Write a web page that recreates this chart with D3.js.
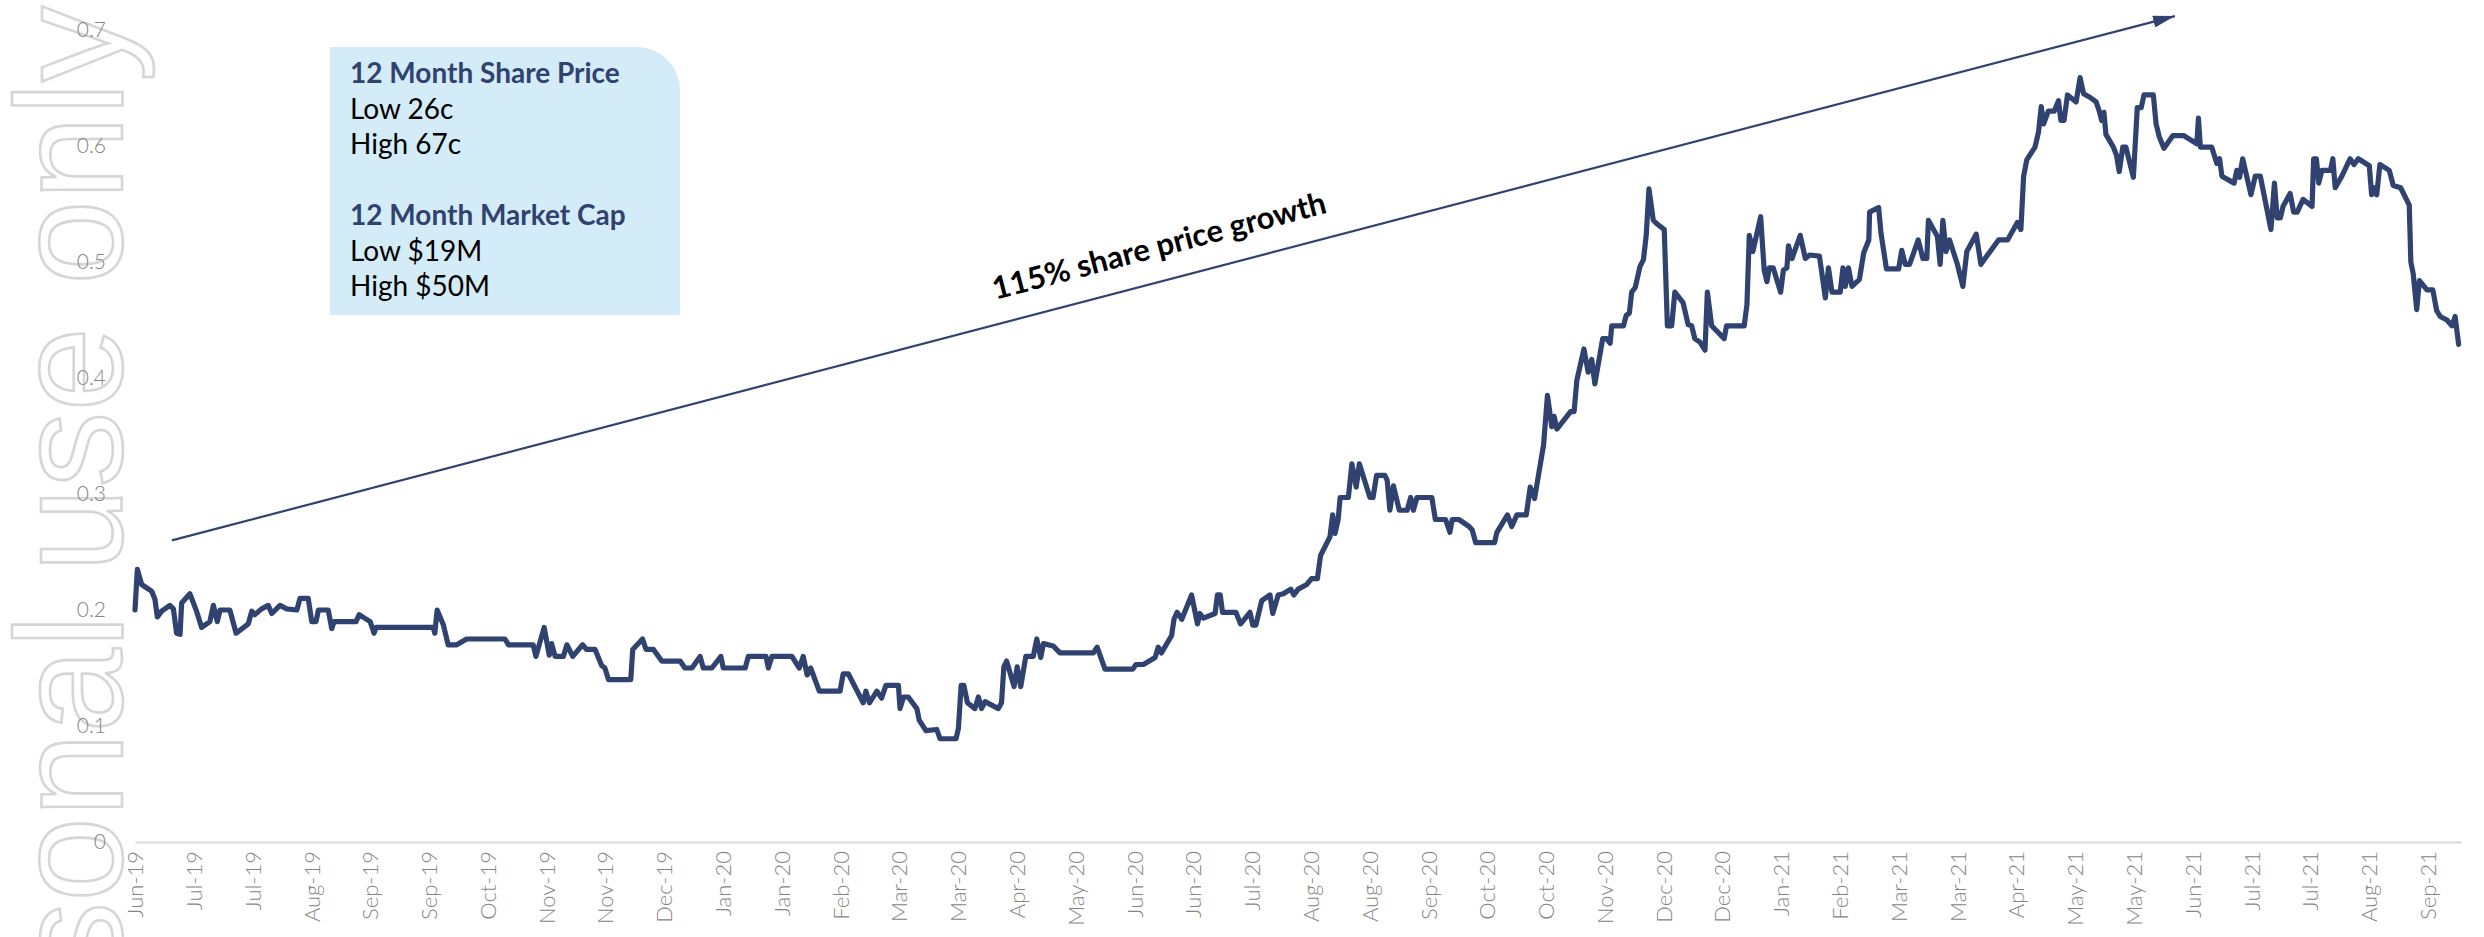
<!DOCTYPE html>
<html>
<head>
<meta charset="utf-8">
<script src="https://cdn.jsdelivr.net/npm/d3@7"></script>
<style>
  html, body { margin: 0; padding: 0; background: #ffffff; }
  svg { display: block; }
</style>
</head>
<body>
<svg id="chart" width="2484" height="937"></svg>
<script>
// Daily close, traced as polyline vertices: trading-day index and price (A$)
const tradingDay = [
  0.0, 0.6, 1.7, 4.3, 5.1, 5.7, 6.8, 8.9, 9.8, 10.6, 11.5, 11.9, 14.0, 15.7, 17.0, 19.1, 20.0, 21.0, 21.7, 24.2,
  25.8, 28.9, 29.8, 30.6, 32.3, 34.0, 34.9, 37.0, 38.7, 41.3, 42.1, 44.2, 45.1, 46.2, 46.8, 49.3, 50.2, 50.8, 56.4, 57.2,
  60.0, 61.0, 61.5, 76.1, 76.5, 77.1, 78.7, 79.9, 82.1, 84.6, 94.4, 95.3, 101.6, 102.3, 104.4, 105.7, 106.3, 107.2, 109.3, 110.2,
  111.7, 114.2, 115.2, 117.4, 119.1, 119.9, 120.8, 126.5, 127.0, 129.5, 130.4, 132.3, 134.4, 139.1, 140.3, 142.1, 144.2, 145.0, 147.2, 149.5,
  150.1, 155.7, 156.5, 161.0, 161.6, 162.5, 167.6, 169.5, 170.5, 171.5, 172.4, 174.6, 179.9, 180.7, 182.0, 185.8, 186.5, 187.4, 189.3, 190.5,
  191.6, 194.8, 195.2, 196.1, 197.3, 199.5, 200.1, 201.8, 204.6, 205.4, 209.5, 210.1, 210.8, 211.5, 212.4, 214.3, 215.2, 216.0, 216.9, 220.3,
  221.1, 221.7, 222.4, 224.3, 225.1, 226.0, 227.3, 229.2, 230.1, 231.1, 231.8, 234.3, 236.0, 244.5, 245.5, 247.5, 254.6, 255.4, 257.3, 260.3,
  261.1, 261.9, 264.5, 265.1, 265.9, 267.1, 269.6, 271.1, 271.7, 272.6, 275.6, 276.2, 276.9, 277.5, 280.9, 282.1, 284.5, 285.2, 286.0, 287.5,
  289.6, 290.3, 291.7, 293.0, 294.9, 295.7, 296.8, 299.0, 300.2, 301.7, 302.5, 304.9, 305.6, 306.2, 307.0, 307.5, 309.6, 310.5, 311.6, 312.4,
  315.1, 315.9, 316.8, 318.9, 319.5, 320.2, 321.1, 322.6, 324.6, 325.5, 326.2, 327.1, 330.9, 331.8, 334.4, 335.5, 336.1, 337.8, 340.4, 341.2,
  342.1, 346.9, 347.5, 350.2, 351.3, 352.6, 355.0, 356.0, 357.1, 359.4, 360.4, 361.5, 362.1, 362.8, 364.9, 366.3, 367.2, 367.9, 369.7, 370.8,
  371.7, 372.5, 374.5, 375.5, 376.4, 376.8, 379.8, 380.5, 381.3, 381.9, 382.8, 384.0, 384.9, 385.6, 386.3, 387.4, 388.3, 390.2, 391.0, 392.1,
  392.9, 395.0, 396.3, 397.2, 398.0, 399.3, 400.6, 401.2, 402.3, 405.5, 406.1, 410.6, 411.3, 411.9, 412.8, 414.8, 415.7, 416.4, 417.0, 418.0,
  419.9, 420.6, 421.5, 421.9, 422.8, 424.9, 426.2, 427.3, 429.8, 431.3, 432.1, 433.0, 435.1, 435.8, 436.4, 437.2, 438.1, 440.0, 441.1, 442.4,
  442.6, 444.9, 445.5, 446.9, 450.0, 450.8, 451.7, 452.8, 455.0, 456.2, 457.2, 457.6, 459.9, 460.6, 461.3, 462.1, 463.0, 465.0, 466.4, 467.4,
  469.8, 471.0, 472.7, 475.5, 477.8, 480.3, 481.2, 481.9, 482.7, 484.8, 485.7, 486.4, 487.0, 488.2, 489.7, 490.8, 491.4, 492.2, 493.1, 495.3,
  496.3, 497.2, 498.8, 500.4, 501.2, 501.8, 502.4, 502.9, 504.8, 505.6, 506.3, 507.2, 508.0, 509.9, 510.9, 511.9, 512.6, 515.0, 515.7, 516.5,
  517.7, 520.0, 522.7, 526.1, 526.5, 527.0, 529.9, 531.2, 531.9, 532.5, 535.6, 536.3, 537.0, 537.8, 539.9, 541.0, 542.3, 545.0, 545.9, 546.6,
  547.4, 548.1, 549.9, 550.8, 551.7, 553.2, 555.5, 555.9, 556.6, 557.2, 558.0, 560.2, 560.8, 561.4, 563.1, 565.2, 566.2, 567.3, 570.1, 570.7,
  571.3, 572.0, 572.8, 575.2, 576.2, 578.1, 580.3, 580.7, 581.3, 582.2, 582.9, 584.8, 586.3, 587.3, 588.2, 589.9, 591.2, 592.0, 592.9
];
const sharePrice = [
  0.200, 0.235, 0.222, 0.216, 0.209, 0.194, 0.199, 0.204, 0.201, 0.180, 0.179, 0.206, 0.214, 0.199, 0.185, 0.190, 0.204, 0.190, 0.200, 0.200,
  0.180, 0.188, 0.199, 0.196, 0.201, 0.204, 0.197, 0.204, 0.201, 0.200, 0.210, 0.210, 0.190, 0.190, 0.200, 0.200, 0.184, 0.190, 0.190, 0.196,
  0.190, 0.180, 0.185, 0.185, 0.180, 0.200, 0.187, 0.170, 0.170, 0.175, 0.175, 0.170, 0.170, 0.160, 0.185, 0.161, 0.171, 0.160, 0.160, 0.170,
  0.160, 0.170, 0.166, 0.166, 0.152, 0.150, 0.140, 0.140, 0.166, 0.175, 0.166, 0.166, 0.156, 0.156, 0.150, 0.150, 0.160, 0.150, 0.150, 0.160,
  0.150, 0.150, 0.160, 0.160, 0.150, 0.160, 0.160, 0.150, 0.160, 0.144, 0.150, 0.130, 0.130, 0.145, 0.145, 0.120, 0.130, 0.120, 0.130, 0.124,
  0.135, 0.135, 0.115, 0.125, 0.125, 0.115, 0.105, 0.096, 0.097, 0.089, 0.089, 0.098, 0.135, 0.135, 0.120, 0.115, 0.125, 0.115, 0.121, 0.115,
  0.120, 0.151, 0.156, 0.134, 0.151, 0.134, 0.160, 0.160, 0.175, 0.159, 0.171, 0.169, 0.163, 0.163, 0.168, 0.149, 0.149, 0.153, 0.153, 0.159,
  0.168, 0.163, 0.178, 0.192, 0.198, 0.192, 0.213, 0.188, 0.197, 0.193, 0.197, 0.213, 0.213, 0.198, 0.198, 0.188, 0.198, 0.187, 0.187, 0.208,
  0.213, 0.197, 0.213, 0.214, 0.218, 0.213, 0.218, 0.222, 0.227, 0.227, 0.247, 0.263, 0.282, 0.266, 0.278, 0.297, 0.297, 0.326, 0.306, 0.326,
  0.297, 0.297, 0.316, 0.316, 0.312, 0.286, 0.307, 0.286, 0.286, 0.297, 0.286, 0.297, 0.297, 0.278, 0.278, 0.267, 0.278, 0.278, 0.272, 0.269,
  0.258, 0.258, 0.267, 0.282, 0.272, 0.282, 0.282, 0.306, 0.296, 0.342, 0.385, 0.358, 0.367, 0.356, 0.365, 0.371, 0.371, 0.398, 0.425, 0.405,
  0.416, 0.395, 0.434, 0.434, 0.430, 0.445, 0.445, 0.454, 0.456, 0.474, 0.478, 0.496, 0.502, 0.523, 0.563, 0.536, 0.533, 0.528, 0.445, 0.445,
  0.474, 0.465, 0.446, 0.445, 0.434, 0.431, 0.424, 0.474, 0.445, 0.434, 0.445, 0.445, 0.463, 0.523, 0.509, 0.539, 0.493, 0.483, 0.495, 0.495,
  0.474, 0.493, 0.495, 0.514, 0.503, 0.523, 0.503, 0.506, 0.505, 0.469, 0.495, 0.474, 0.474, 0.495, 0.479, 0.495, 0.479, 0.485, 0.508, 0.519,
  0.543, 0.547, 0.525, 0.494, 0.494, 0.510, 0.498, 0.498, 0.519, 0.503, 0.503, 0.536, 0.522, 0.498, 0.536, 0.509, 0.519, 0.498, 0.479, 0.509,
  0.524, 0.498, 0.506, 0.519, 0.519, 0.534, 0.528, 0.574, 0.588, 0.599, 0.612, 0.634, 0.619, 0.630, 0.630, 0.639, 0.622, 0.622, 0.644, 0.638,
  0.659, 0.645, 0.642, 0.638, 0.630, 0.622, 0.629, 0.610, 0.599, 0.592, 0.578, 0.599, 0.599, 0.573, 0.633, 0.633, 0.644, 0.644, 0.619, 0.608,
  0.598, 0.609, 0.609, 0.602, 0.624, 0.599, 0.599, 0.585, 0.589, 0.574, 0.568, 0.579, 0.573, 0.589, 0.558, 0.574, 0.574, 0.528, 0.568, 0.538,
  0.538, 0.548, 0.559, 0.543, 0.543, 0.554, 0.548, 0.589, 0.589, 0.568, 0.579, 0.579, 0.589, 0.564, 0.574, 0.589, 0.584, 0.589, 0.583, 0.558,
  0.564, 0.558, 0.584, 0.579, 0.566, 0.564, 0.549, 0.500, 0.490, 0.459, 0.484, 0.476, 0.476, 0.458, 0.453, 0.450, 0.445, 0.453, 0.429
];

// Category labels, one every 15 trading days
const dateLabels = [
  "Jun-19", "Jul-19", "Jul-19", "Aug-19", "Sep-19", "Sep-19", "Oct-19", "Nov-19", "Nov-19", "Dec-19",
  "Jan-20", "Jan-20", "Feb-20", "Mar-20", "Mar-20", "Apr-20", "May-20", "Jun-20", "Jun-20", "Jul-20",
  "Aug-20", "Aug-20", "Sep-20", "Oct-20", "Oct-20", "Nov-20", "Dec-20", "Dec-20", "Jan-21", "Feb-21",
  "Mar-21", "Mar-21", "Apr-21", "May-21", "May-21", "Jun-21", "Jul-21", "Jul-21", "Aug-21", "Sep-21"
];
const labelStep = 15;
const priceTicks = [0, 0.1, 0.2, 0.3, 0.4, 0.5, 0.6, 0.7];

// Summary panel text
const panelHeadings = ["12 Month Share Price", "12 Month Market Cap"];
const panelRows = [["Low 26c", "High 67c"], ["Low $19M", "High $50M"]];

// Trend arrow (trading day, price) and its caption
const trendDay = [9.4, 520.5];
const trendPrice = [0.260, 0.712];
const trendCaption = "115% share price growth";

const watermark = "For personal use only";

const navy = "#2f4270";
const svg = d3.select("#chart");

const x = d3.scaleLinear().domain([0, 593.5]).range([135, 2461]);
const y = d3.scaleLinear().domain([0, 0.7]).range([842, 30]);

// Faint outlined watermark running up the left edge
svg.append("text")
  .attr("transform", "translate(122,6) rotate(-90)")
  .attr("text-anchor", "end")
  .style("font-family", "'Liberation Sans', Arial, sans-serif")
  .style("font-size", "152px")
  .style("fill", "none")
  .style("stroke", "#d6d6d6")
  .style("stroke-width", 2.6)
  .text(watermark);

// Y axis (labels only)
const yAxis = svg.append("g")
  .attr("transform", "translate(135,0)")
  .call(d3.axisLeft(y).tickValues(priceTicks)
    .tickFormat(d => d === 0 ? "0" : d3.format(".1f")(d))
    .tickSize(0).tickPadding(29));
yAxis.select(".domain").remove();
yAxis.selectAll("text")
  .style("font-family", "Lato, 'Open Sans', sans-serif")
  .style("font-weight", 300)
  .style("font-size", "21px")
  .style("fill", "#858585");

// X axis: baseline and rotated category labels
const xAxis = svg.append("g")
  .attr("transform", "translate(0,842)")
  .call(d3.axisBottom(x)
    .tickValues(dateLabels.map((d, i) => i * labelStep))
    .tickFormat((d, i) => dateLabels[i])
    .tickSize(0).tickPadding(0));
xAxis.select(".domain").attr("stroke", "#d9d9d9").attr("stroke-width", 2);
xAxis.selectAll("text")
  .attr("transform", "rotate(-90)")
  .attr("x", -9)
  .attr("y", 0)
  .attr("dy", "0.35em")
  .style("text-anchor", "end")
  .style("font-family", "Lato, 'Open Sans', sans-serif")
  .style("font-weight", 300)
  .style("font-size", "22px")
  .style("fill", "#858585");

// Summary panel with rounded top-right corner
const panel = { x0: 330, y0: 47, x1: 680, y1: 315, r: 43 };
svg.append("path")
  .attr("d", `M${panel.x0},${panel.y0}H${panel.x1 - panel.r}A${panel.r},${panel.r} 0 0 1 ${panel.x1},${panel.y0 + panel.r}V${panel.y1}H${panel.x0}Z`)
  .attr("fill", "#d3ecf7");

const panelText = svg.append("g")
  .style("font-family", "Lato, 'Open Sans', sans-serif")
  .style("font-size", "28px");
panelHeadings.forEach((h, k) => {
  const top = 83 + k * 142;
  panelText.append("text").attr("x", 350).attr("y", top)
    .style("font-weight", 700).style("fill", navy).text(h);
  panelRows[k].forEach((r, j) => {
    panelText.append("text").attr("x", 350).attr("y", top + 36 + j * 35)
      .style("fill", "#000").text(r);
  });
});

// Share price line
const line = d3.line()
  .x((d, i) => x(tradingDay[i]))
  .y(d => y(d));
svg.append("path")
  .datum(sharePrice)
  .attr("d", line)
  .attr("fill", "none")
  .attr("stroke", navy)
  .attr("stroke-width", 5.2)
  .attr("stroke-linejoin", "round")
  .attr("stroke-linecap", "round");

// Trend arrow
svg.append("defs").append("marker")
  .attr("id", "head")
  .attr("markerUnits", "userSpaceOnUse")
  .attr("markerWidth", 22).attr("markerHeight", 12)
  .attr("refX", 22).attr("refY", 6)
  .attr("orient", "auto")
  .append("path").attr("d", "M0,0L22,6L0,12Z").attr("fill", navy);

const ax0 = x(trendDay[0]), ay0 = y(trendPrice[0]);
const ax1 = x(trendDay[1]), ay1 = y(trendPrice[1]);
svg.append("line")
  .attr("x1", ax0).attr("y1", ay0)
  .attr("x2", ax1).attr("y2", ay1)
  .attr("stroke", navy)
  .attr("stroke-width", 2.2)
  .attr("marker-end", "url(#head)");

const angle = Math.atan2(ay1 - ay0, ax1 - ax0) * 180 / Math.PI;
const cx = x(262), cy = y(0.505);
svg.append("text")
  .attr("transform", `translate(${cx},${cy}) rotate(${angle})`)
  .attr("text-anchor", "middle")
  .style("font-family", "Lato, 'Open Sans', sans-serif")
  .style("font-weight", 700)
  .style("font-size", "31px")
  .style("fill", "#000")
  .text(trendCaption);
</script>
</body>
</html>
